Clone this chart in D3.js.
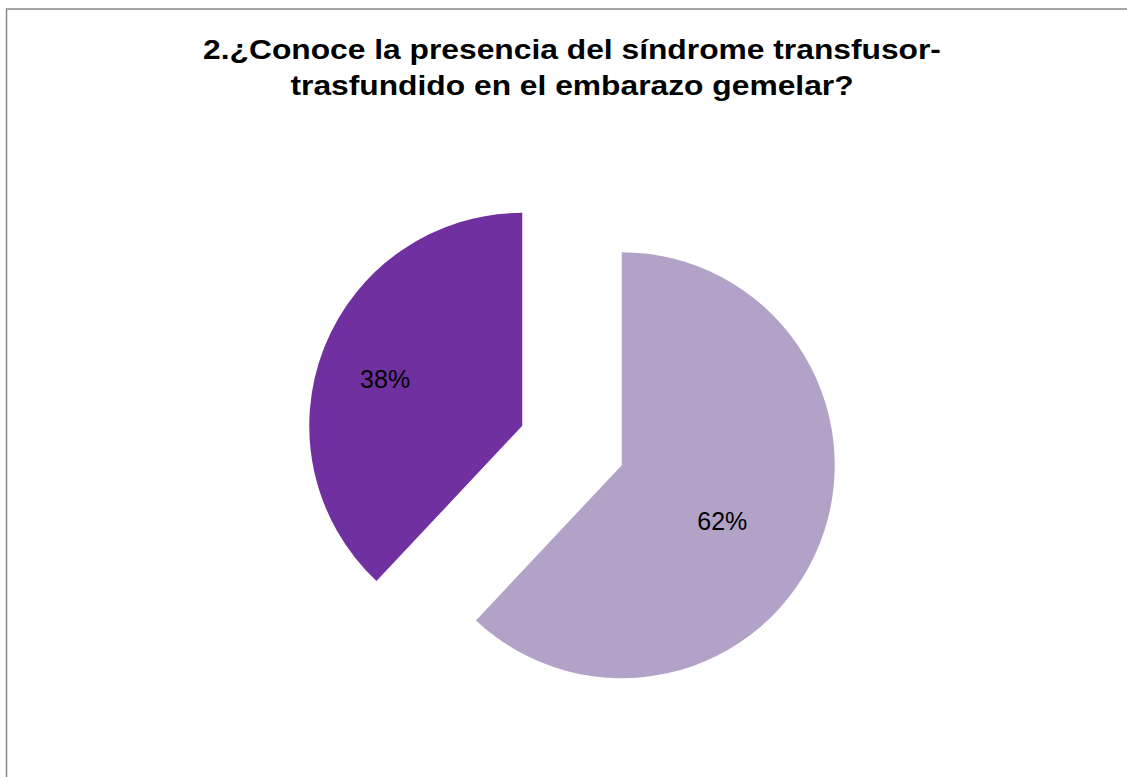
<!DOCTYPE html>
<html>
<head>
<meta charset="utf-8">
<script src="https://cdn.jsdelivr.net/npm/d3@7"></script>
<style>
  html, body { margin: 0; padding: 0; background: #fff; }
  svg { display: block; }
</style>
</head>
<body>
<svg id="chart" width="1127" height="777"></svg>
<script>
const titleLines = ["2.¿Conoce la presencia del síndrome transfusor-", "trasfundido en el embarazo gemelar?"];
const categories = ["Sí", "No"];
const values = [62, 38];
const labels = ["62%", "38%"];
const colors = ["#B3A2C7", "#7030A0"];

const svg = d3.select("#chart");
const W = 1127, H = 777;

// chart area border
svg.append("rect")
  .attr("x", 6.5).attr("y", 9)
  .attr("width", W + 10).attr("height", H + 10)
  .attr("fill", "#fff")
  .attr("stroke", "#888").attr("stroke-width", 1.5);

// title (slightly stretched horizontally like the reference)
const title = svg.append("text")
  .attr("text-anchor", "middle")
  .attr("transform", "translate(572,0) scale(1.135,1)")
  .attr("font-family", "Liberation Sans, Arial, sans-serif")
  .attr("font-weight", "bold")
  .attr("font-size", 28)
  .attr("fill", "#000");
titleLines.forEach((t, i) => {
  title.append("tspan").attr("x", 0).attr("y", 59 + i * 36).text(t);
});

const cx = 572, cy = 445.5, r = 213, explode = 53.5;
const pie = d3.pie().sort(null).value(d => d);
const arcs = pie(values);
const arc = d3.arc().innerRadius(0).outerRadius(r);
const labelFrac = [0.54, 0.68];
const labelAngleShift = [0.13, -0.05];

const g = svg.append("g").attr("transform", `translate(${cx},${cy})`);

arcs.forEach((d, i) => {
  const mid = (d.startAngle + d.endAngle) / 2;
  const ox = Math.sin(mid) * explode, oy = -Math.cos(mid) * explode;
  const sg = g.append("g").attr("transform", `translate(${ox},${oy})`);
  sg.append("path").attr("d", arc(d)).attr("fill", colors[i]);
  const la = mid + labelAngleShift[i];
  const lr = r * labelFrac[i];
  sg.append("text")
    .attr("x", Math.sin(la) * lr)
    .attr("y", -Math.cos(la) * lr)
    .attr("dy", "0.35em")
    .attr("text-anchor", "middle")
    .attr("font-family", "Liberation Sans, Arial, sans-serif")
    .attr("font-size", 25)
    .attr("fill", "#000")
    .text(labels[i]);
});
</script>
</body>
</html>
